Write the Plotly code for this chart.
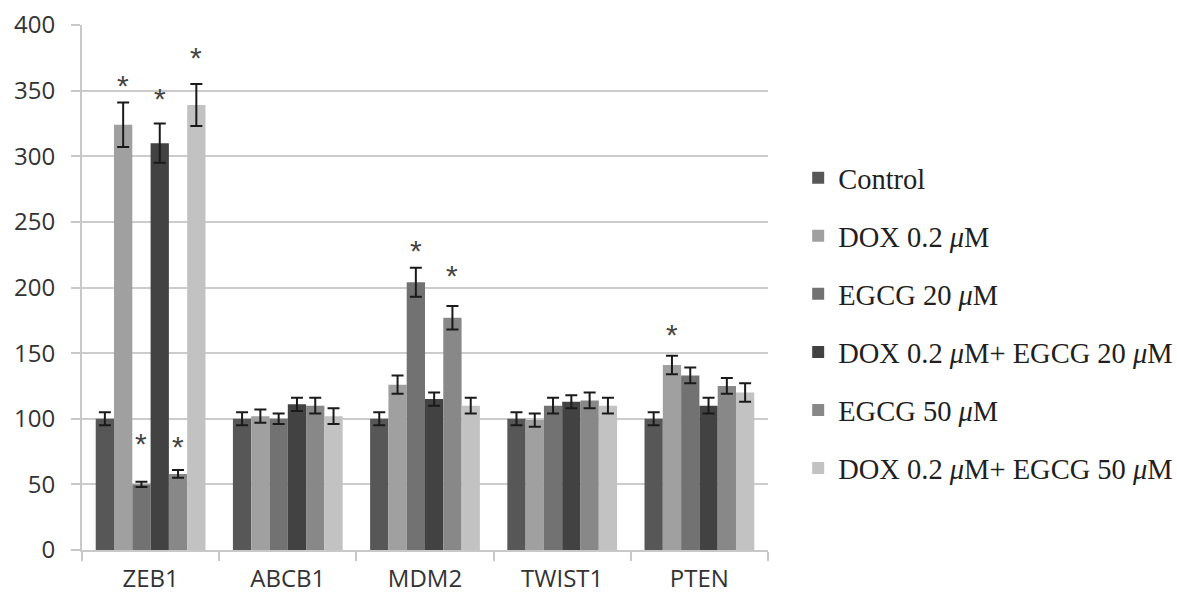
import plotly.graph_objects as go

genes = ["ZEB1", "ABCB1", "MDM2", "TWIST1", "PTEN"]
series_names = [
    "Control",
    "DOX 0.2 <i>μ</i>M",
    "EGCG 20 <i>μ</i>M",
    "DOX 0.2 <i>μ</i>M+ EGCG 20 <i>μ</i>M",
    "EGCG 50 <i>μ</i>M",
    "DOX 0.2 <i>μ</i>M+ EGCG 50 <i>μ</i>M",
]
control = [100, 100, 100, 100, 100]
control_err = [5, 5, 5, 5, 5]
dox = [324, 102, 126, 99, 141]
dox_err = [17, 5, 7, 5, 7]
egcg20 = [50, 100, 204, 110, 133]
egcg20_err = [2, 4, 11, 6, 6]
dox_egcg20 = [310, 111, 115, 113, 110]
dox_egcg20_err = [15, 5, 5, 5, 6]
egcg50 = [58, 110, 177, 114, 125]
egcg50_err = [3, 6, 9, 6, 6]
dox_egcg50 = [339, 102, 110, 110, 120]
dox_egcg50_err = [16, 6, 6, 6, 7]

colors = ["#575757", "#a0a0a0", "#727272", "#424242", "#888888", "#c2c2c2"]

# significance stars: (gene index, series index, value where star sits)
star_gene = [0, 0, 0, 0, 0, 2, 2, 4]
star_series = [1, 2, 3, 4, 5, 2, 4, 1]
star_value = [358, 85, 348, 83, 379, 232, 213, 168]

values = [control, dox, egcg20, dox_egcg20, egcg50, dox_egcg50]
errors = [control_err, dox_err, egcg20_err, dox_egcg20_err, egcg50_err, dox_egcg50_err]

fig = go.Figure()
for i, (name, v, e) in enumerate(zip(series_names, values, errors)):
    fig.add_trace(go.Bar(
        name=name, x=genes, y=v,
        marker=dict(color=colors[i], line=dict(width=0)),
        error_y=dict(type="data", array=e, color="#1a1a1a", thickness=2, width=6),
        legendgroup=f"g{i}",
    ))

bargap = 0.2
nser = len(values)
bw = (1 - bargap) / nser
annotations = []
for g, s, val in zip(star_gene, star_series, star_value):
    xpos = g - (1 - bargap) / 2 + bw * (s + 0.5)
    annotations.append(dict(
        x=xpos, y=val, xref="x", yref="y", text="*", showarrow=False,
        font=dict(family="Liberation Sans", size=30, color="#444444"),
        yanchor="middle", yshift=-5,
    ))

fig.update_layout(
    width=1177, height=612,
    margin=dict(l=82, r=409, t=25, b=62, autoexpand=False),
    paper_bgcolor="white", plot_bgcolor="white",
    barmode="group", bargap=bargap, bargroupgap=0,
    showlegend=True,
    legend=dict(
        x=1.044, xanchor="left", y=0.432, yanchor="middle",
        font=dict(family="Liberation Serif", size=28.5, color="#231f20"),
        tracegroupgap=18, itemclick=False,
    ),
    annotations=annotations,
    xaxis=dict(
        showline=True, linecolor="#c8c8c8", linewidth=2,
        ticks="outside", tickson="boundaries", ticklen=9, tickcolor="#c8c8c8", tickwidth=2,
        tickfont=dict(family="Open Sans", size=24, color="#333333"),
        showgrid=False, ticklabelstandoff=6,
    ),
    yaxis=dict(
        range=[0, 400], dtick=50,
        showline=True, linecolor="#c8c8c8", linewidth=2,
        ticks="outside", ticklen=9, tickcolor="#c8c8c8", tickwidth=2,
        showgrid=True, gridcolor="#cccccc", gridwidth=2,
        tickfont=dict(family="Open Sans", size=24, color="#333333"),
        zeroline=False, ticklabelstandoff=11,
    ),
)

fig.write_html("out.html", config={"displayModeBar": False},
               post_script="document.body.style.margin='0';")
